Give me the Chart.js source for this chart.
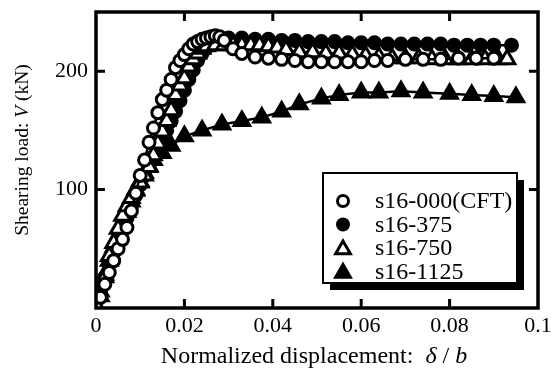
<!DOCTYPE html>
<html>
<head>
<meta charset="utf-8">
<script src="https://cdn.jsdelivr.net/npm/chart.js@4/dist/chart.umd.min.js"></script>
<style>
body { margin: 0; background: #fff; }
canvas { display: block; }
</style>
</head>
<body>
<canvas id="chart" width="551" height="372"></canvas>
<script>
// Gegevens (x = delta/b, V in kN)
const cftX = [0, 0.001, 0.002, 0.003, 0.004, 0.005, 0.006, 0.007, 0.008, 0.009, 0.010, 0.011, 0.012, 0.013, 0.014, 0.015, 0.016, 0.017, 0.018, 0.019, 0.020, 0.021, 0.022, 0.023, 0.024, 0.025, 0.026, 0.027, 0.028, 0.029, 0.031, 0.033, 0.036, 0.039, 0.042, 0.045, 0.048, 0.051, 0.054, 0.057, 0.060, 0.063, 0.066, 0.070, 0.074, 0.078, 0.082, 0.086, 0.090];
const cftV = [0, 9, 20, 30, 40, 50, 58, 68, 82, 97, 112, 125, 140, 152, 165, 176, 184, 193, 203, 209, 214, 219, 223, 225, 227, 228, 229, 230, 229, 226, 219, 215, 212, 211, 210, 209, 208, 208, 208, 208, 208, 209, 209, 210, 210, 210, 211, 211, 211];

const s375X = [0, 0.001, 0.002, 0.003, 0.004, 0.005, 0.006, 0.007, 0.008, 0.009, 0.010, 0.011, 0.012, 0.013, 0.014, 0.015, 0.016, 0.017, 0.018, 0.019, 0.020, 0.021, 0.022, 0.023, 0.024, 0.025, 0.026, 0.027, 0.028, 0.030, 0.033, 0.036, 0.039, 0.042, 0.045, 0.048, 0.051, 0.054, 0.057, 0.060, 0.063, 0.066, 0.069, 0.072, 0.075, 0.078, 0.081, 0.084, 0.087, 0.090, 0.094];
const s375V = [0, 13, 26, 37, 47, 57, 66, 76, 86, 95, 104, 112, 120, 128, 135, 142, 150, 158, 166, 175, 184, 193, 201, 209, 215, 220, 223, 225, 226, 228, 228, 227, 227, 226, 226, 225, 225, 225, 224, 224, 224, 223, 223, 223, 223, 223, 222, 222, 222, 222, 222];

const s750X = [0, 0.001, 0.002, 0.003, 0.004, 0.005, 0.006, 0.007, 0.008, 0.009, 0.010, 0.011, 0.012, 0.013, 0.014, 0.015, 0.016, 0.017, 0.018, 0.019, 0.020, 0.021, 0.022, 0.023, 0.024, 0.025, 0.027, 0.029, 0.031, 0.033, 0.035, 0.037, 0.039, 0.041, 0.043, 0.046, 0.049, 0.052, 0.055, 0.058, 0.061, 0.064, 0.067, 0.070, 0.073, 0.076, 0.079, 0.082, 0.085, 0.088, 0.091, 0.093];
const s750V = [0, 10, 26, 44, 55, 67, 78, 86, 93, 100, 106, 112, 119, 129, 139, 149, 158, 167, 180, 188, 194, 204, 210, 215, 219, 221, 222, 222, 222, 222, 222, 222, 221, 220, 218, 216, 216, 215, 215, 214, 213, 212, 211, 211, 211, 210, 210, 210, 210, 210, 210, 210];

const s1125X = [0, 0.001, 0.002, 0.003, 0.004, 0.005, 0.006, 0.007, 0.008, 0.009, 0.010, 0.011, 0.012, 0.013, 0.015, 0.017, 0.020, 0.024, 0.0285, 0.033, 0.0375, 0.042, 0.046, 0.051, 0.055, 0.060, 0.064, 0.069, 0.074, 0.080, 0.085, 0.090, 0.095];
const s1125V = [0, 14, 28, 40, 51, 61, 71, 81, 90, 99, 107, 114, 120, 125, 131, 137, 145, 150, 155, 158, 161, 166, 172, 177, 180, 182, 182, 183, 182, 181, 180, 179, 178];

const seriesLabels = ["s16-000(CFT)", "s16-375", "s16-750", "s16-1125"];
const xTicks = [0, 0.02, 0.04, 0.06, 0.08, 0.1];
const yTicks = [100, 200];

const serif = '"Liberation Serif", "Times New Roman", serif';

function pts(xs, vs) {
    return xs.map((x, i) => ({ x: x, y: vs[i] }));
}

function drawMarker(ctx, style, filled, x, y, r) {
    ctx.beginPath();
    if (style === "circle") {
        ctx.arc(x, y, r, 0, Math.PI * 2);
    } else {
        ctx.moveTo(x, y - r);
        ctx.lineTo(x + r * 0.866, y + r * 0.5);
        ctx.lineTo(x - r * 0.866, y + r * 0.5);
        ctx.closePath();
    }
    ctx.fillStyle = filled ? "#000" : "#fff";
    ctx.fill();
    ctx.lineWidth = 3;
    ctx.strokeStyle = "#000";
    ctx.stroke();
}

// tekst met gemengde (cursieve) delen tekenen
function mixedText(ctx, parts, cx, cy, size) {
    let total = 0;
    parts.forEach(p => {
        ctx.font = (p[1] ? "italic " : "") + size + "px " + serif;
        total += ctx.measureText(p[0]).width;
    });
    let x = cx - total / 2;
    ctx.textAlign = "left";
    ctx.textBaseline = "middle";
    parts.forEach(p => {
        ctx.font = (p[1] ? "italic " : "") + size + "px " + serif;
        ctx.fillText(p[0], x, cy);
        x += ctx.measureText(p[0]).width;
    });
}

const framePlugin = {
    id: "frame",
    afterDraw(chart) {
        const ctx = chart.ctx;
        const a = chart.chartArea;
        const xs = chart.scales.x, ys = chart.scales.y;
        ctx.save();
        ctx.strokeStyle = "#000";
        ctx.fillStyle = "#000";

        // kader
        ctx.lineWidth = 3.5;
        ctx.strokeRect(a.left, a.top, a.right - a.left, a.bottom - a.top);

        // ticks naar binnen
        ctx.lineWidth = 3;
        ctx.beginPath();
        xTicks.forEach(v => {
            if (v === 0 || v === 0.1) return;
            const px = xs.getPixelForValue(v);
            ctx.moveTo(px, a.bottom); ctx.lineTo(px, a.bottom - 9);
            ctx.moveTo(px, a.top); ctx.lineTo(px, a.top + 9);
        });
        yTicks.forEach(v => {
            const py = ys.getPixelForValue(v);
            ctx.moveTo(a.left, py); ctx.lineTo(a.left + 9, py);
            ctx.moveTo(a.right, py); ctx.lineTo(a.right - 9, py);
        });
        ctx.stroke();

        // astitels
        ctx.fillStyle = "#000";
        mixedText(ctx, [["Normalized displacement:  ", false], ["\u03b4", true], [" / ", false], ["b", true]], 314, 357, 24);
        ctx.save();
        ctx.translate(23, 150);
        ctx.rotate(-Math.PI / 2);
        mixedText(ctx, [["Shearing load: ", false], ["V", true], [" (kN)", false]], 0, 0, 19.5);
        ctx.restore();

        // legenda met schaduw
        const lx = 323, ly = 173, lw = 194, lh = 110;
        ctx.fillStyle = "#000";
        ctx.fillRect(lx + 7, ly + 7, lw, lh);
        ctx.fillStyle = "#fff";
        ctx.fillRect(lx, ly, lw, lh);
        ctx.lineWidth = 2;
        ctx.strokeRect(lx, ly, lw, lh);
        const rows = [201, 224.5, 248, 271.5];
        chart.data.datasets.forEach((ds, i) => {
            const isTri = ds.pointStyle === "triangle";
            drawMarker(ctx, isTri ? "triangle" : "circle", ds.pointBackgroundColor === "#000", 343, rows[i] + (isTri ? 1.5 : 0), isTri ? 8.5 : 5.5);
            ctx.fillStyle = "#000";
            ctx.font = "24px " + serif;
            ctx.textAlign = "left";
            ctx.textBaseline = "middle";
            ctx.fillText(ds.label, 375, rows[i] + 1);
        });
        ctx.restore();
    }
};

function makeSet(label, xs, vs, style, fill, order) {
    return {
        label: label,
        data: pts(xs, vs),
        borderColor: "#000",
        borderWidth: 2.5,
        pointStyle: style,
        pointRadius: style === "triangle" ? 9 : 6,
        pointBackgroundColor: fill,
        pointBorderColor: "#000",
        pointBorderWidth: 3,
        tension: 0,
        order: order
    };
}

new Chart(document.getElementById("chart"), {
    type: "line",
    data: {
        datasets: [
            makeSet(seriesLabels[0], cftX, cftV, "circle", "#fff", 1),
            makeSet(seriesLabels[1], s375X, s375V, "circle", "#000", 3),
            makeSet(seriesLabels[2], s750X, s750V, "triangle", "#fff", 2),
            makeSet(seriesLabels[3], s1125X, s1125V, "triangle", "#000", 4)
        ]
    },
    options: {
        responsive: false,
        animation: false,
        devicePixelRatio: 1,
        layout: { padding: { left: 0, right: 13, top: 12, bottom: 0 }, autoPadding: false },
        plugins: { legend: { display: false }, tooltip: { enabled: false } },
        scales: {
            x: {
                type: "linear",
                min: 0,
                max: 0.1,
                afterBuildTicks: s => { s.ticks = xTicks.map(v => ({ value: v })); },
                afterFit: s => { s.height = 64; s.paddingLeft = 0; s.paddingRight = 0; },
                grid: { display: false, drawTicks: false },
                border: { display: false },
                ticks: {
                    color: "#000",
                    padding: 5,
                    maxRotation: 0,
                    font: { family: serif, size: 22 },
                    callback: v => String(v)
                }
            },
            y: {
                type: "linear",
                min: 0,
                max: 250,
                afterBuildTicks: s => { s.ticks = yTicks.map(v => ({ value: v })); },
                afterFit: s => { s.width = 96; s.paddingTop = 0; s.paddingBottom = 0; },
                grid: { display: false, drawTicks: false },
                border: { display: false },
                ticks: {
                    color: "#000",
                    padding: 8,
                    font: { family: serif, size: 22 },
                    callback: v => String(v)
                }
            }
        }
    },
    plugins: [framePlugin]
});
</script>
</body>
</html>
